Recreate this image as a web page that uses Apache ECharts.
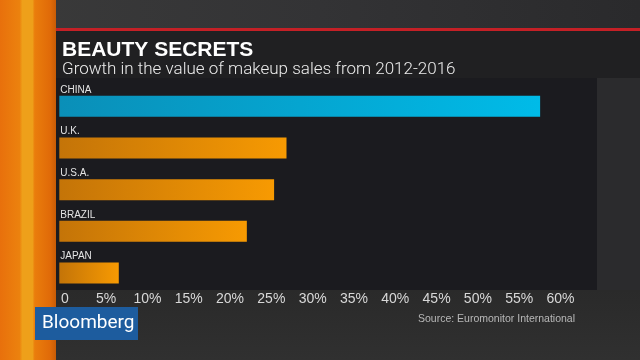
<!DOCTYPE html>
<html><head><meta charset="utf-8">
<script src="https://cdn.jsdelivr.net/npm/echarts@6/dist/echarts.min.js"></script>
<style>html,body{margin:0;padding:0;background:#2a2a2c;}#c{width:640px;height:360px;}</style>
</head><body><div id="c"></div>
<script>
const categories = ['CHINA', 'U.K.', 'U.S.A.', 'BRAZIL', 'JAPAN'];
const growth = [58.2, 27.5, 26.0, 22.7, 7.2];
const highlight = ['CHINA'];
const tickValues = [0,5,10,15,20,25,30,35,40,45,50,55,60];
const titleText = 'BEAUTY SECRETS';
const subtitleText = 'Growth in the value of makeup sales from 2012-2016';
const sourceText = 'Source: Euromonitor International';

const blue = {type:'linear',x:0,y:0,x2:1,y2:0,colorStops:[{offset:0,color:'#0a8fb8'},{offset:1,color:'#00bbe8'}]};
const orange = {type:'linear',x:0,y:0,x2:1,y2:0,colorStops:[{offset:0,color:'#c47408'},{offset:1,color:'#f79a02'}]};

const chart = echarts.init(document.getElementById('c'), null, {renderer:'canvas'});
const font = '"Liberation Sans", Arial, sans-serif';
chart.setOption({
  backgroundColor: '#2b2b2d',
  animation: false,
  graphic: [
    {type:'rect', z:-10, shape:{x:0,y:0,width:640,height:30}, style:{fill:{type:'linear',x:0,y:0,x2:1,y2:0,colorStops:[{offset:0,color:'#3a3a3a'},{offset:0.5,color:'#333335'},{offset:1,color:'#2a2a2c'}]}}},
    {type:'rect', z:-10, shape:{x:0,y:290,width:640,height:70}, style:{fill:{type:'linear',x:0,y:0,x2:0,y2:1,colorStops:[{offset:0,color:'#2a2a2a'},{offset:1,color:'#303030'}]}}},
    {type:'rect', z:-9, shape:{x:53,y:30,width:587,height:48}, style:{fill:'#202022'}},
    {type:'rect', z:-9, shape:{x:53,y:28,width:587,height:3}, style:{fill:'#c42026'}},
    {type:'rect', z:-9, shape:{x:55,y:78,width:542,height:212}, style:{fill:'#1b1b1f'}},
    {type:'rect', z:-8, shape:{x:0,y:0,width:56,height:360}, style:{fill:{type:'linear',x:0,y:0,x2:1,y2:0,colorStops:[{offset:0,color:'#e8700c'},{offset:0.35,color:'#ec820e'},{offset:0.4,color:'#eea01a'},{offset:0.58,color:'#eea01a'},{offset:0.62,color:'#ea7d0c'},{offset:0.9,color:'#e06a08'},{offset:1,color:'#c85c06'}]}}},
    {type:'rect', z:5, shape:{x:35,y:307,width:103,height:33}, style:{fill:'#1d5c9e'}},
    {type:'text', z:6, x:42, y:323.5, style:{text:'Bloomberg', fill:'#ffffff', font:'19px Roboto, "Liberation Sans", sans-serif', textVerticalAlign:'middle'}},
    {type:'text', z:6, right:65, y:319, style:{text:sourceText, fill:'#b8b8b8', font:'10.5px '+font, textVerticalAlign:'middle', textAlign:'right'}}
  ],
  title: [
    {text: titleText, left: 57, top: 35, textStyle:{color:'#ffffff', fontSize:21, fontWeight:'bold', fontFamily:font}},
    {text: subtitleText, left: 57, top: 56, textStyle:{color:'#ececec', fontSize:17, fontWeight:300, fontFamily:'Roboto, sans-serif'}}
  ],
  grid: {left: 59.3, right: 85, top: 85.4, height: 208.5, containLabel:false},
  xAxis: {
    type:'value', min:0, max:60, interval:5,
    axisLine:{show:false}, axisTick:{show:false}, splitLine:{show:false},
    axisLabel:{color:'#d8d8d8', fontSize:14, fontFamily:font, margin:-2, padding:[0,0,0,11],
      formatter: v => tickValues.includes(v) ? (v===0 ? '0' : v+'%') : ''}
  },
  yAxis: {type:'category', data:categories, inverse:true, show:false},
  series: [{
    type:'bar', barWidth:21,
    data: growth.map((v,i)=>({value:v, itemStyle:{color: highlight.includes(categories[i]) ? blue : orange}})),
    label:{show:true, position:[1,-6], align:'left', verticalAlign:'middle', formatter:'{b}', color:'#e4e4e4', fontSize:10, fontFamily:font}
  }]
});
</script></body></html>
